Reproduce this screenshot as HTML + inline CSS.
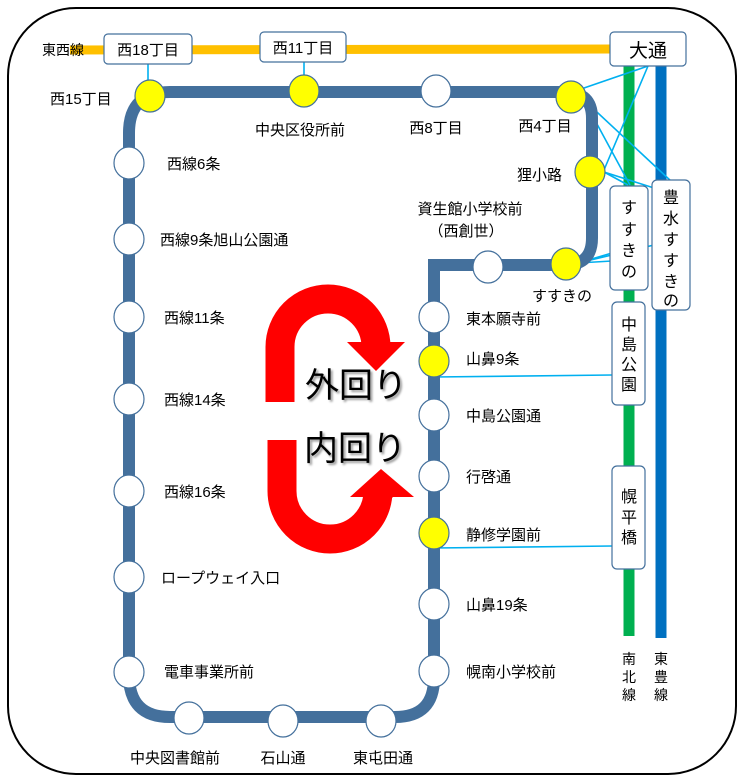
<!DOCTYPE html>
<html><head><meta charset="utf-8"><style>
html,body{margin:0;padding:0;background:#fff}
svg{display:block}
text{font-family:"Liberation Sans","Noto Sans CJK JP",sans-serif;fill:#000}
</style></head><body>
<svg width="742" height="782" viewBox="0 0 742 782" xmlns="http://www.w3.org/2000/svg">
<rect x="8" y="8" width="728" height="766" rx="68" fill="#fff" stroke="#000" stroke-width="2"/>
<!-- subway lines -->
<line x1="70" y1="50" x2="615" y2="49" stroke="#ffc000" stroke-width="9"/>
<line x1="629" y1="66" x2="629" y2="636" stroke="#00b050" stroke-width="11"/>
<line x1="661" y1="66" x2="661" y2="638" stroke="#0070c0" stroke-width="11"/>
<text x="42" y="55" font-size="14">東西線</text>
<!-- connectors -->
<g stroke="#00b0f0" stroke-width="1.6" fill="none">
<line x1="148" y1="64" x2="148" y2="82"/>
<line x1="304" y1="62" x2="304" y2="78"/>
<line x1="584" y1="88" x2="648" y2="66"/>
<line x1="584" y1="100" x2="630" y2="185"/>
<line x1="584" y1="100" x2="672" y2="182"/>
<line x1="604" y1="170" x2="648" y2="66"/>
<line x1="604" y1="172" x2="628" y2="185"/>
<line x1="604" y1="172" x2="654" y2="188"/>
<line x1="578" y1="263" x2="612" y2="253"/>
<line x1="578" y1="263" x2="612" y2="261"/>
<line x1="578" y1="263" x2="654" y2="245"/>
<line x1="434" y1="377" x2="612" y2="375"/>
<line x1="434" y1="548" x2="612" y2="546"/>
</g>
<!-- boxes -->
<g fill="#fff" stroke="#44709c" stroke-width="1.2">
<rect x="104" y="34" width="88" height="30" rx="4"/>
<rect x="260" y="32" width="86" height="30" rx="4"/>
<rect x="610" y="32" width="76" height="34" rx="4"/>
<rect x="610" y="186" width="38" height="104" rx="5"/>
<rect x="652" y="180" width="38" height="130" rx="5"/>
<rect x="612" y="302" width="33" height="103" rx="5"/>
<rect x="612" y="466" width="33" height="103" rx="5"/>
</g>
<text x="148" y="55" font-size="15" text-anchor="middle">西18丁目</text>
<text x="303" y="53" font-size="15" text-anchor="middle">西11丁目</text>
<text x="648" y="57" font-size="19" text-anchor="middle">大通</text>
<g font-size="16" text-anchor="middle">
<text x="629" y="213">す</text><text x="629" y="235">す</text><text x="629" y="256">き</text><text x="629" y="277">の</text>
<text x="671" y="203">豊</text><text x="671" y="224">水</text><text x="671" y="245">す</text><text x="671" y="266">す</text><text x="671" y="287">き</text><text x="671" y="306">の</text>
<text x="629" y="330">中</text><text x="629" y="350">島</text><text x="629" y="370">公</text><text x="629" y="390">園</text>
<text x="629" y="502">幌</text><text x="629" y="523">平</text><text x="629" y="543">橋</text>
</g>
<g font-size="14" text-anchor="middle">
<text x="629" y="664">南</text><text x="629" y="682">北</text><text x="629" y="700">線</text>
<text x="661" y="664">東</text><text x="661" y="682">豊</text><text x="661" y="700">線</text>
</g>
<!-- tram loop -->
<path d="M434 265 L565 265 Q592 265 592 238 L592 118 Q592 92 565 92 L170 92 Q129 92 129 133 L129 675 Q129 717 170 717 L395 717 Q434 717 434 678 Z" fill="none" stroke="#44709c" stroke-width="12"/>
<!-- stations -->
<g stroke="#44709c" stroke-width="1.2">
<ellipse cx="150" cy="96" rx="15" ry="16" fill="#ff0"/>
<ellipse cx="304" cy="91" rx="15" ry="16" fill="#ff0"/>
<ellipse cx="436" cy="91" rx="15" ry="16" fill="#fff"/>
<ellipse cx="571" cy="97" rx="15" ry="16" fill="#ff0"/>
<ellipse cx="590" cy="172" rx="15" ry="16" fill="#ff0"/>
<ellipse cx="566" cy="264" rx="15" ry="16" fill="#ff0"/>
<ellipse cx="488" cy="267" rx="15" ry="16" fill="#fff"/>
<ellipse cx="129" cy="163" rx="15" ry="16" fill="#fff"/>
<ellipse cx="129" cy="239" rx="15" ry="16" fill="#fff"/>
<ellipse cx="129" cy="317" rx="15" ry="16" fill="#fff"/>
<ellipse cx="129" cy="399" rx="15" ry="16" fill="#fff"/>
<ellipse cx="129" cy="491" rx="15" ry="16" fill="#fff"/>
<ellipse cx="129" cy="577" rx="15" ry="16" fill="#fff"/>
<ellipse cx="129" cy="672" rx="15" ry="16" fill="#fff"/>
<ellipse cx="189" cy="718" rx="15" ry="16" fill="#fff"/>
<ellipse cx="283" cy="721" rx="15" ry="16" fill="#fff"/>
<ellipse cx="381" cy="721" rx="15" ry="16" fill="#fff"/>
<ellipse cx="434" cy="317" rx="15" ry="16" fill="#fff"/>
<ellipse cx="434" cy="361" rx="15" ry="16" fill="#ff0"/>
<ellipse cx="434" cy="415" rx="15" ry="16" fill="#fff"/>
<ellipse cx="434" cy="476" rx="15" ry="16" fill="#fff"/>
<ellipse cx="434" cy="533" rx="15" ry="16" fill="#ff0"/>
<ellipse cx="434" cy="604" rx="15" ry="16" fill="#fff"/>
<ellipse cx="434" cy="671" rx="15" ry="16" fill="#fff"/>
</g>
<!-- station labels -->
<g font-size="15">
<text x="50" y="104">西15丁目</text>
<text x="300" y="135" text-anchor="middle">中央区役所前</text>
<text x="436" y="133" text-anchor="middle">西8丁目</text>
<text x="545" y="131" text-anchor="middle">西4丁目</text>
<text x="562" y="180" text-anchor="end">狸小路</text>
<text x="470" y="214" text-anchor="middle">資生館小学校前</text>
<text x="466" y="236" text-anchor="middle">（西創世）</text>
<text x="562" y="301" text-anchor="middle">すすきの</text>
<text x="167" y="169">西線6条</text>
<text x="160" y="245">西線9条旭山公園通</text>
<text x="164" y="323">西線11条</text>
<text x="164" y="405">西線14条</text>
<text x="164" y="497">西線16条</text>
<text x="161" y="583">ロープウェイ入口</text>
<text x="164" y="677">電車事業所前</text>
<text x="175" y="763" text-anchor="middle">中央図書館前</text>
<text x="283" y="763" text-anchor="middle">石山通</text>
<text x="383" y="763" text-anchor="middle">東屯田通</text>
<text x="466" y="324">東本願寺前</text>
<text x="466" y="364">山鼻9条</text>
<text x="466" y="421">中島公園通</text>
<text x="466" y="482">行啓通</text>
<text x="466" y="540">静修学園前</text>
<text x="466" y="610">山鼻19条</text>
<text x="466" y="677">幌南小学校前</text>
</g>
<!-- red arrows -->
<path d="M280 402 L280 347 A48 48 0 0 1 376 347 L376 344" fill="none" stroke="#ff0000" stroke-width="29"/>
<polygon points="347,342 405,342 376,371" fill="#ff0000"/>
<path d="M282 440 L282 491 A48 48 0 0 0 378 491 L378 498" fill="none" stroke="#ff0000" stroke-width="29"/>
<polygon points="350,497 414,497 381,469" fill="#ff0000"/>
<g font-size="34" text-anchor="middle" style="text-shadow:2px 2px 2px rgba(0,0,0,.4)">
<text x="356" y="397">外回り</text>
<text x="355" y="460">内回り</text>
</g>
</svg>
</body></html>
